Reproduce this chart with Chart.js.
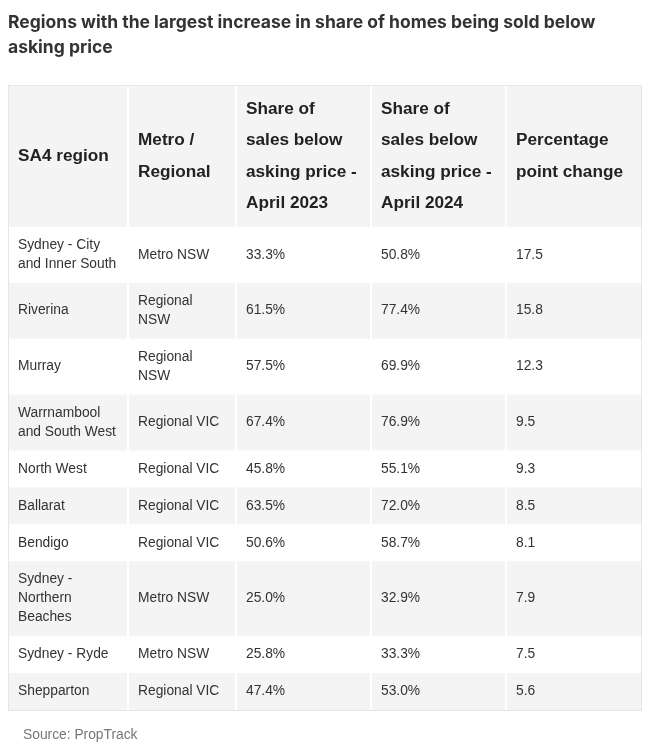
<!DOCTYPE html>
<html>
<head>
<meta charset="utf-8">
<script src="https://cdn.jsdelivr.net/npm/chart.js@4.4.1/dist/chart.umd.min.js"></script>
<style>
  html, body { margin: 0; padding: 0; background: #fff; }
</style>
</head>
<body>
<canvas id="table" width="653" height="745"></canvas>
<script>
const titleLines = ['Regions with the largest increase in share of homes being sold below', 'asking price'];
const sourceText = 'Source: PropTrack';

const headers = [
  ['SA4 region'],
  ['Metro /', 'Regional'],
  ['Share of', 'sales below', 'asking price -', 'April 2023'],
  ['Share of', 'sales below', 'asking price -', 'April 2024'],
  ['Percentage', 'point change']
];

const regions = [
  ['Sydney - City', 'and Inner South'],
  ['Riverina'],
  ['Murray'],
  ['Warrnambool', 'and South West'],
  ['North West'],
  ['Ballarat'],
  ['Bendigo'],
  ['Sydney -', 'Northern', 'Beaches'],
  ['Sydney - Ryde'],
  ['Shepparton']
];
const areas = [
  ['Metro NSW'],
  ['Regional', 'NSW'],
  ['Regional', 'NSW'],
  ['Regional VIC'],
  ['Regional VIC'],
  ['Regional VIC'],
  ['Regional VIC'],
  ['Metro NSW'],
  ['Metro NSW'],
  ['Regional VIC']
];
const share2023 = [33.3, 61.5, 57.5, 67.4, 45.8, 63.5, 50.6, 25.0, 25.8, 47.4];
const share2024 = [50.8, 77.4, 69.9, 76.9, 55.1, 72.0, 58.7, 32.9, 33.3, 53.0];
const pointChange = [17.5, 15.8, 12.3, 9.5, 9.3, 8.5, 8.1, 7.9, 7.5, 5.6];

// layout
const colWidths = [120, 108, 135, 135, 136];
const headLine = 31.5, headPad = 15;
const bodyLine = 19, bodyPad = 18;
const cellPadX = 10;

const colEdges = [0];
colWidths.forEach(w => colEdges.push(colEdges[colEdges.length - 1] + w));

const bodyRows = regions.map((r, i) => [
  r,
  areas[i],
  [share2023[i].toFixed(1) + '%'],
  [share2024[i].toFixed(1) + '%'],
  [pointChange[i].toFixed(1)]
]);

const rowEdges = [0];
rowEdges.push(Math.max(...headers.map(h => h.length)) * headLine + headPad);
bodyRows.forEach(row => {
  const lines = Math.max(...row.map(c => c.length));
  rowEdges.push(rowEdges[rowEdges.length - 1] + lines * bodyLine + bodyPad);
});

const tablePlugin = {
  id: 'tableCells',
  afterDraw(chart) {
    const {ctx, chartArea, scales: {x, y}} = chart;
    const allRows = [headers].concat(bodyRows);
    ctx.save();

    // striped backgrounds
    allRows.forEach((row, r) => {
      if (r % 2 !== 0) return;
      const top = y.getPixelForValue(rowEdges[r]);
      const bottom = y.getPixelForValue(rowEdges[r + 1]);
      ctx.fillStyle = '#f4f4f4';
      row.forEach((cell, c) => {
        const left = x.getPixelForValue(colEdges[c]) + (c > 0 ? 1 : 0);
        const right = x.getPixelForValue(colEdges[c + 1]) - (c < row.length - 1 ? 1 : 0);
        ctx.fillRect(left, top, right - left, bottom - top);
      });
    });

    // outer border
    ctx.strokeStyle = '#e6e6e6';
    ctx.lineWidth = 1;
    ctx.strokeRect(Math.round(chartArea.left) + 0.5, Math.round(chartArea.top) - 0.5,
      Math.round(chartArea.right - chartArea.left) - 1, Math.round(chartArea.bottom - chartArea.top) + 1);

    // text
    ctx.textBaseline = 'middle';
    ctx.textAlign = 'left';
    allRows.forEach((row, r) => {
      const isHead = r === 0;
      const lh = isHead ? headLine : bodyLine;
      ctx.font = isHead ? 'bold 17.2px "Liberation Sans", Arial, sans-serif' : '13.8px "Liberation Sans", Arial, sans-serif';
      ctx.fillStyle = isHead ? '#222' : '#333';
      const mid = (y.getPixelForValue(rowEdges[r]) + y.getPixelForValue(rowEdges[r + 1])) / 2;
      row.forEach((cell, c) => {
        const left = x.getPixelForValue(colEdges[c]) + cellPadX;
        cell.forEach((line, i) => {
          ctx.fillText(line, left, mid + (i - (cell.length - 1) / 2) * lh);
        });
      });
    });

    // source note
    ctx.font = '13.8px "Liberation Sans", Arial, sans-serif';
    ctx.fillStyle = '#777';
    ctx.fillText(sourceText, chartArea.left + 15, chartArea.bottom + 25);
    ctx.restore();
  }
};

new Chart(document.getElementById('table'), {
  type: 'scatter',
  data: { datasets: [] },
  options: {
    responsive: false,
    animation: false,
    devicePixelRatio: 1,
    layout: { padding: { left: 8, right: 11, top: 0, bottom: 35 } },
    scales: {
      x: { type: 'linear', display: false, min: 0, max: colEdges[colEdges.length - 1] },
      y: { type: 'linear', display: false, min: 0, max: rowEdges[rowEdges.length - 1], reverse: true }
    },
    plugins: {
      legend: { display: false },
      tooltip: { enabled: false },
      title: {
        display: true,
        text: titleLines,
        align: 'start',
        color: '#333',
        font: { family: 'Inter', size: 17.5, weight: '700', lineHeight: 1.44 },
        padding: { top: 10, bottom: 25.6 }
      }
    }
  },
  plugins: [tablePlugin]
});
</script>
</body>
</html>
